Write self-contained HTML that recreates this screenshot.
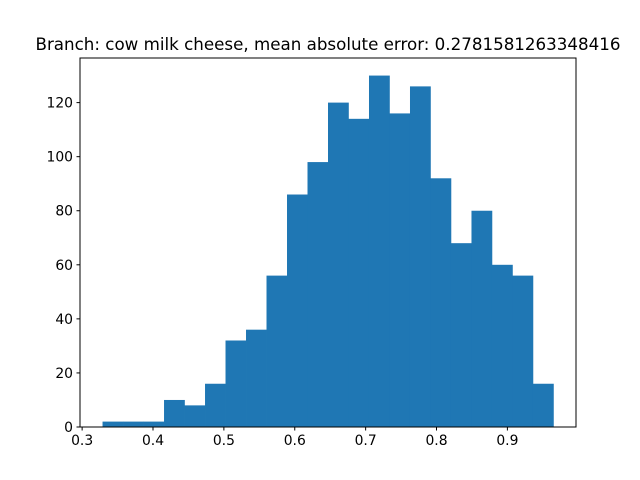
<!DOCTYPE html>
<html><head><meta charset="utf-8"><style>
body{margin:0;background:#fff;}
svg{display:block;font-family:"DejaVu Sans","Liberation Sans",sans-serif;}
</style></head><body>
<svg id="chart" width="640" height="480"></svg>
<script>
const binStart = 0.3288;
const binEnd = 0.965;
const counts = [2,2,2,10,8,16,32,36,56,86,98,120,114,130,116,126,92,68,80,60,56,16];
const xTicks = [0.3,0.4,0.5,0.6,0.7,0.8,0.9];
const yTicks = [0,20,40,60,80,100,120];
const titleText = "Branch: cow milk cheese, mean absolute error: 0.2781581263348416";

const NS="http://www.w3.org/2000/svg";
const svg=document.getElementById('chart');
const L=80,R=576,T=58,B=427;
const xMin=0.2970, xMax=0.9968, yMax=136.5;
function xs(v){return L+(v-xMin)/(xMax-xMin)*(R-L);}
function ys(v){return B-v/yMax*(B-T);}
function mk(tag,attrs){const e=document.createElementNS(NS,tag);for(const k in attrs)e.setAttribute(k,attrs[k]);svg.appendChild(e);return e;}

const w=(binEnd-binStart)/counts.length;
counts.forEach((c,i)=>{
  const x0=xs(binStart+i*w), x1=xs(binStart+(i+1)*w);
  const r=mk('rect',{x:x0,y:ys(c),width:x1-x0+0.3,height:B-ys(c),fill:'#1f77b4'});
  
  
});
const frame=mk('rect',{x:L,y:T,width:R-L,height:B-T,fill:'none',stroke:'#000','stroke-width':1});


xTicks.forEach(v=>{
  const x=xs(v);
  mk('line',{x1:x,x2:x,y1:B,y2:B+3.5,stroke:'#000'});
  const t=mk('text',{x:x,y:B+18,'text-anchor':'middle','font-size':13.9});
  t.textContent=v.toFixed(1);
  
  
});
yTicks.forEach(v=>{
  const y=ys(v);
  mk('line',{x1:L-3.5,x2:L,y1:y,y2:y,stroke:'#000'});
  const t=mk('text',{x:L-7,y:y+5,'text-anchor':'end','font-size':13.9});
  t.textContent=v;
  
  
});
const ti=mk('text',{x:(L+R)/2,y:T-8,'text-anchor':'middle','font-size':16.7});
ti.textContent=titleText;


</script>
</body></html>
